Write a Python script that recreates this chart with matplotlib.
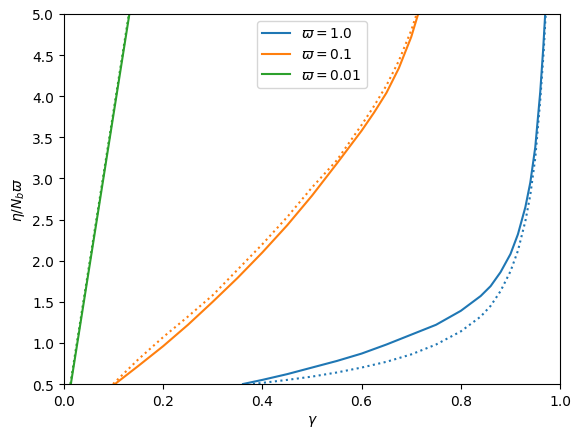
import numpy as np
import matplotlib.pyplot as plt

# values
g_w1 = [0.361, 0.40, 0.45, 0.50, 0.55, 0.60, 0.65, 0.70, 0.75, 0.80, 0.84, 0.86, 0.88, 0.90, 0.915, 0.93, 0.94, 0.95, 0.96, 0.966, 0.970]
e_w1 = [0.5, 0.55, 0.62, 0.70, 0.78, 0.87, 0.98, 1.10, 1.22, 1.39, 1.57, 1.69, 1.86, 2.08, 2.32, 2.65, 2.95, 3.38, 4.05, 4.58, 5.0]
g_w1_dot = [0.381, 0.45, 0.50, 0.55, 0.60, 0.65, 0.70, 0.75, 0.80, 0.84, 0.86, 0.88, 0.90, 0.915, 0.93, 0.94, 0.95, 0.96, 0.967, 0.971]
e_w1_dot = [0.5, 0.55, 0.59, 0.64, 0.70, 0.77, 0.86, 0.98, 1.14, 1.32, 1.45, 1.63, 1.87, 2.12, 2.48, 2.80, 3.25, 3.95, 4.55, 5.0]

g_w01 = [0.103, 0.15, 0.20, 0.25, 0.30, 0.35, 0.40, 0.45, 0.50, 0.55, 0.60, 0.625, 0.65, 0.675, 0.70, 0.714]
e_w01 = [0.5, 0.72, 0.96, 1.22, 1.50, 1.79, 2.10, 2.43, 2.79, 3.18, 3.58, 3.80, 4.04, 4.34, 4.72, 5.0]
g_w01_dot = [0.099, 0.15, 0.20, 0.25, 0.30, 0.35, 0.40, 0.45, 0.50, 0.55, 0.60, 0.625, 0.65, 0.675, 0.70, 0.711]
e_w01_dot = [0.5, 0.80, 1.07, 1.32, 1.58, 1.89, 2.20, 2.53, 2.89, 3.22, 3.65, 3.88, 4.13, 4.43, 4.80, 5.0]

g_w001 = [0.014, 0.132]
e_w001 = [0.5, 5.0]
g_w001_dot = [0.013, 0.131]
e_w001_dot = [0.5, 5.0]

fig = plt.figure(figsize=(5.81, 4.39), dpi=100)
ax = fig.add_axes([0.110, 0.123, 0.854, 0.843])

ax.plot(g_w1, e_w1, c='tab:blue', label=r'$\varpi = 1.0$')
ax.plot(g_w01, e_w01, c='tab:orange', label=r'$\varpi = 0.1$')
ax.plot(g_w001, e_w001, c='tab:green', label=r'$\varpi = 0.01$')
ax.plot(g_w1_dot, e_w1_dot, c='tab:blue', linestyle=':')
ax.plot(g_w01_dot, e_w01_dot, c='tab:orange', linestyle=':')
ax.plot(g_w001_dot, e_w001_dot, c='tab:green', linestyle=':')

ax.set_xlim(0, 1)
ax.set_ylim(0.5, 5)
ax.set_yticks(np.arange(0.5, 5.01, 0.5))
ax.set_xlabel(r'$\gamma$')
ax.set_ylabel(r'$\eta/N_b\varpi$')
ax.legend(loc='upper center')
plt.savefig('out.png')
